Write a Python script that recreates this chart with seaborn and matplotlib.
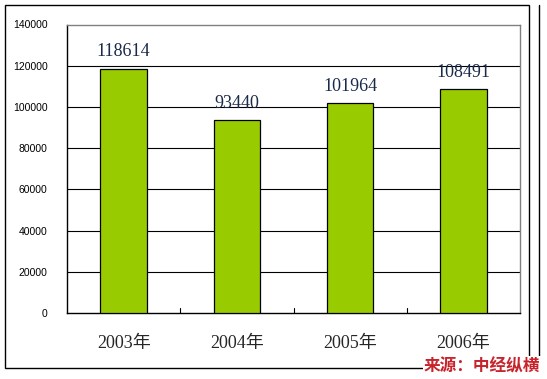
import matplotlib
matplotlib.use("Agg")
import matplotlib.pyplot as plt
import seaborn as sns
import pandas as pd
from matplotlib.lines import Line2D
from matplotlib.patches import Rectangle

years = ["2003年", "2004年", "2005年", "2006年"]
values = [118614, 93440, 101964, 108491]
yticks = [0, 20000, 40000, 60000, 80000, 100000, 120000, 140000]
source = "来源：中经纵横"

df = pd.DataFrame({"year": years, "value": values})

sns.set_theme(style="white")
plt.rcParams['font.family'] = ['Liberation Sans', 'Noto Sans CJK SC', 'DejaVu Sans']

W, H = 547, 379
fig = plt.figure(figsize=(W / 100, H / 100), dpi=100)
x0, x1, y0, y1 = 67, 520, 24.5, 313
ax = fig.add_axes([x0 / W, 1 - y1 / H, (x1 - x0) / W, (y1 - y0) / H])

sns.barplot(data=df, x="year", y="value", color="#99CC00", edgecolor="black",
            linewidth=0.9, width=0.41, saturation=1, ax=ax, zorder=3)

ax.set_ylim(0, 140000)
ax.set_xlim(-0.5, 3.5)
ax.set_yticks(yticks)
ax.set_yticklabels([str(v) for v in yticks], fontsize=7.5, color="black",
                   family=['Liberation Sans'])
ax.set_xticks(range(len(years)))
ax.set_xticklabels(years, fontsize=13, family=['Liberation Serif', 'Noto Sans CJK SC'])
ax.tick_params(axis='x', length=0, pad=16)
ax.tick_params(axis='y', length=0, pad=14)
ax.set_xlabel("")
ax.set_ylabel("")
for yv in yticks[1:-1]:
    ax.axhline(yv, color="black", linewidth=0.8, zorder=1)

# category separator ticks (inward)
for xb in [0.5, 1.5, 2.5]:
    ax.plot([xb, xb], [0, 2400], color="black", linewidth=0.8, zorder=2, clip_on=False)

for sp in ["left", "bottom"]:
    ax.spines[sp].set_color("black")
    ax.spines[sp].set_linewidth(1.0)
for sp in ["top", "right"]:
    ax.spines[sp].set_color("#808080")
    ax.spines[sp].set_linewidth(1.0)

for i, v in enumerate(values):
    ax.annotate(str(v), (i, v), xytext=(0, 6), textcoords="offset points",
                ha="center", va="bottom", fontsize=13, color="#1a2a4a",
                family=['Liberation Serif'])

# outer frame
fig.patches.append(Rectangle((5.3 / W, 1 - 368 / H), (529.3 - 5.3) / W, (368 - 5) / H,
                             transform=fig.transFigure, fill=False,
                             edgecolor="black", linewidth=1.0))
fig.lines.append(Line2D([539.3 / W, 539.3 / W], [1 - 5 / H, 1 - 368 / H],
                        transform=fig.transFigure, color="black", linewidth=1.0))

fig.text(540 / W, 1 - 366 / H, source, ha="right", va="center", fontsize=12,
         color="#C8232C", fontweight="bold", style="italic",
         family=['Noto Sans CJK SC'],
         bbox=dict(facecolor="white", edgecolor="none", pad=0.5))

fig.savefig("out.png", dpi=100)
